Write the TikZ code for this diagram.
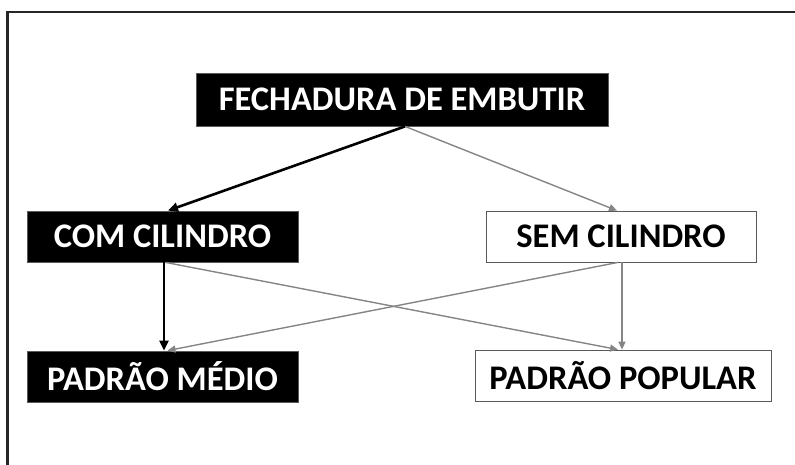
\documentclass[tikz,border=0pt]{standalone}
\usepackage{fontspec}
\setmainfont{Carlito}
\usetikzlibrary{arrows.meta}
\begin{document}
\begin{tikzpicture}[x=1pt,y=-1pt,
  box/.style={draw=black!65,line width=0.8pt,inner sep=0pt,font=\fontsize{34.5}{37}\selectfont\bfseries,anchor=center},
  darkbox/.style={box,fill=black,text=white},
  lightbox/.style={box,fill=white,text=black},
  strong/.style={draw=black,line width=2.6pt,-{Triangle[length=10pt,width=9pt]}},
  weak/.style={draw=black!48,line width=1.4pt,-{Triangle[length=8pt,width=7pt]}}]
\useasboundingbox (0,0) rectangle (795,464);
\draw[line width=2.6pt,black!85] (7.5,470) -- (7.5,12) -- (800,12);
\node[darkbox,minimum width=412pt,minimum height=53pt] (fech) at (402,99.5) {FECHADURA DE EMBUTIR};
\node[darkbox,minimum width=271pt,minimum height=51pt] (com) at (162.5,236.5) {COM CILINDRO};
\node[lightbox,minimum width=270pt,minimum height=51pt] (sem) at (621,236.5) {SEM CILINDRO};
\node[darkbox,minimum width=271pt,minimum height=51pt] (pm) at (162.5,376.5) {PADRÃO MÉDIO};
\node[lightbox,minimum width=296pt,minimum height=51pt] (pp) at (623,375.5) {PADRÃO POPULAR};
\draw[weak] ([xshift=3pt]fech.south) -- ([xshift=-4pt]sem.north);
\draw[weak] ([xshift=3pt]com.south) -- ([xshift=-5pt]pp.north);
\draw[weak] ([xshift=-3pt]sem.south) -- ([xshift=5pt]pm.north);
\draw[weak] ([xshift=1pt]sem.south) -- ([xshift=-1pt]pp.north);
\draw[strong] ([xshift=3pt]fech.south) -- ([xshift=5.5pt]com.north);
\draw[strong] ([xshift=1.5pt]com.south) -- ([xshift=1.5pt]pm.north);
\end{tikzpicture}
\end{document}
